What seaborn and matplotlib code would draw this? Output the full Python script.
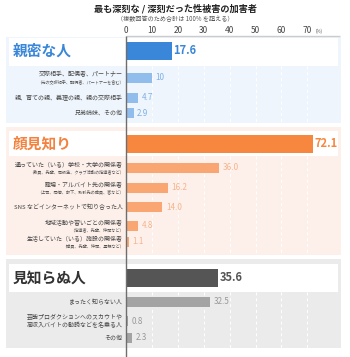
import matplotlib
matplotlib.use("Agg")
import matplotlib.pyplot as plt
from matplotlib.patches import Rectangle
import seaborn as sns

sns.set_theme(style="white")
plt.rcParams['font.family'] = ['Noto Sans CJK JP', 'DejaVu Sans']

# ---------------- data ----------------
title = "最も深刻な / 深刻だった性被害の加害者"
subtitle = "（複数回答のため合計は 100% を超える）"
tick_values = [0, 10, 20, 30, 40, 50, 60, 70]

group_names = ["親密な人", "顔見知り", "見知らぬ人"]
group_totals = [17.6, 72.1, 35.6]
group_total_labels = ["17.6", "72.1", "35.6"]

g1_labels = ["交際相手、配偶者、パートナー", "親、育ての親、義理の親、親の交際相手", "兄弟姉妹、その他"]
g1_notes = ["（元の交際相手、配偶者、パートナーを含む）", "", ""]
g1_values = [10, 4.7, 2.9]
g1_value_labels = ["10", "4.7", "2.9"]

g2_labels = ["通っていた（いる）学校・大学の関係者", "職場・アルバイト先の関係者",
             "SNS などインターネットで知り合った人", "地域活動や習いごとの関係者",
             "生活していた（いる）施設の関係者"]
g2_notes = ["（教員、先輩、同級生、クラブ活動の指導者など）", "（上司、同僚、部下、取引先の職員、客など）",
            "", "（指導者、先輩、仲間など）", "（職員、先輩、仲間、里親など）"]
g2_values = [36.0, 16.2, 14.0, 4.8, 1.1]
g2_value_labels = ["36.0", "16.2", "14.0", "4.8", "1.1"]

g3_labels = ["まったく知らない人", "芸能プロダクションへのスカウトや\n高収入バイトの勧誘などを名乗る人", "その他"]
g3_notes = ["", "", ""]
g3_values = [32.5, 0.8, 2.3]
g3_value_labels = ["32.5", "0.8", "2.3"]

# ---------------- layout / style ----------------
W, H = 350, 357
X0 = 126.0          # pixel of value 0
PPU = 2.59          # pixels per unit
def px(xp):
    return (xp - X0) / PPU

groups = [
    dict(labels=g1_labels, notes=g1_notes, values=g1_values, vlabels=g1_value_labels,
         head_y=50.5, sub_y=[78, 98, 113], bg=(37, 123), box=(38, 66),
         c_head="#3a86d8", c_sub="#90bdec", c_val="#7fb0e6", c_bg="#eef5fc", c_name="#3a86d8"),
    dict(labels=g2_labels, notes=g2_notes, values=g2_values, vlabels=g2_value_labels,
         head_y=143.5, sub_y=[168, 188, 207, 226, 242], bg=(127, 255), box=(131, 156),
         c_head="#f7873f", c_sub="#f9a672", c_val="#f7b38c", c_bg="#fdf0ea", c_name="#f4823f"),
    dict(labels=g3_labels, notes=g3_notes, values=g3_values, vlabels=g3_value_labels,
         head_y=277.5, sub_y=[302, 321, 338], bg=(259, 348), box=(264, 292),
         c_head="#555555", c_sub="#a3a3a3", c_val="#999999", c_bg="#ebebeb", c_name="#333333"),
]

fig = plt.figure(figsize=(W / 100, H / 100), dpi=100)
ax = fig.add_axes([0, 0, 1, 1])
fig.patch.set_facecolor("white")

for gi, g in enumerate(groups):
    # section background
    ax.add_patch(Rectangle((px(6), g["bg"][0]), px(341) - px(6), g["bg"][1] - g["bg"][0],
                           facecolor=g["c_bg"], edgecolor="none", zorder=0))
    # white header box
    ax.add_patch(Rectangle((px(9), g["box"][0]), px(338) - px(9), g["box"][1] - g["box"][0],
                           facecolor="white", edgecolor="none", zorder=0.2))
    # dashed grid lines in sub area
    ax.vlines(tick_values[1:], g["box"][1], g["bg"][1], colors="white",
              linestyles=(0, (3, 3)), linewidth=0.7, zorder=0.5)

    # header bar
    sns.barplot(x=[group_totals[gi]], y=[g["head_y"]], orient="y", native_scale=True,
                width=18, color=g["c_head"], saturation=1, errorbar=None,
                linewidth=0, ax=ax)
    ax.text(group_totals[gi] + 0.6, g["head_y"], group_total_labels[gi],
            ha="left", va="center", fontsize=8, fontweight="bold", color=g["c_head"])
    ax.text(px(13), g["head_y"], group_names[gi], ha="left", va="center",
            fontsize=10.6, fontweight="bold", color=g["c_name"])

    # sub bars
    for lab, note, val, vl, yy in zip(g["labels"], g["notes"], g["values"], g["vlabels"], g["sub_y"]):
        sns.barplot(x=[val], y=[yy], orient="y", native_scale=True, width=10,
                    color=g["c_sub"], saturation=1, errorbar=None, linewidth=0, ax=ax)
        ax.text(val + 1.4, yy, vl, ha="left", va="center", fontsize=5.8, color=g["c_val"])
        if note:
            ax.text(px(122.5), yy - 3.3, lab, ha="right", va="center", fontsize=4.3, color="#444444")
            ax.text(px(123.5), yy + 4.0, note, ha="right", va="center", fontsize=3.0, color="#555555")
        else:
            ax.text(px(122.5), yy, lab, ha="right", va="center", fontsize=4.3, color="#444444",
                    linespacing=1.4)

# axis line and top border
ax.plot([0, px(340)], [36, 36], color="#cccccc", lw=1, zorder=3, solid_capstyle="butt")
ax.plot([0, 0], [36, 357], color="#6e6e6e", lw=1, zorder=4, solid_capstyle="butt")

# tick labels
for t in tick_values:
    ax.text(t, 30.5, str(t), ha="center", va="center", fontsize=6.0, color="#444444")
ax.text(70 + 3.2, 30.8, "(%)", ha="left", va="center", fontsize=3.2, color="#555555")

# titles
ax.text(px(175), 8.5, title, ha="center", va="center", fontsize=6.6, fontweight="bold", color="#222222")
ax.text(px(175), 19, subtitle, ha="center", va="center", fontsize=4.4, color="#555555")

ax.set_xlim(px(0), px(W))
ax.set_ylim(H, 0)
ax.set_axis_off()

fig.savefig("out.png", dpi=100, facecolor="white")
